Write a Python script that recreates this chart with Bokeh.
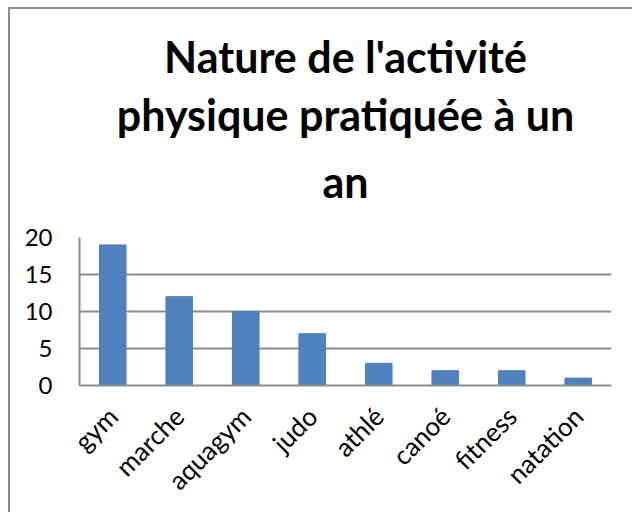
from bokeh.plotting import figure
from bokeh.models import Title, FixedTicker, Range1d
from bokeh.embed import file_html
from bokeh.resources import INLINE
import math

categories = ["gym", "marche", "aquagym", "judo", "athlé", "canoé", "fitness", "natation"]
values = [19, 12, 10, 7, 3, 2, 2, 1]
y_ticks = [0, 5, 10, 15, 20]
title_lines = ["Nature de l'activité", "physique pratiquée à un", "an"]

FONT = "Lato"
GRID = "#8c8c8c"

p = figure(x_range=categories, y_range=Range1d(0, 20), width=624, height=505,
           output_backend="svg", toolbar_location=None,
           min_border_left=69, min_border_right=23, min_border_top=228, min_border_bottom=129,
           styles={"margin-left": "8px", "margin-top": "7px",
                   "border-left": "2px solid #8c8c8c", "border-top": "2px solid #8c8c8c"})

p.vbar(x=categories, top=values, width=0.4, color="#4F81BD")

# spacer between plot frame and the title block
p.add_layout(Title(text=" ", text_font_size="1px", standoff=16), "above")

standoffs = [24, 4, 6]  # for "an", line 2, line 1
for t, s in zip(reversed(title_lines), standoffs):
    p.add_layout(Title(text=t, align="center", text_font=FONT, text_font_size="43px",
                       text_font_style="bold", text_color="black", standoff=s), "above")

p.outline_line_color = None
p.xgrid.grid_line_color = None
p.ygrid.grid_line_color = GRID
p.ygrid.grid_line_width = 2
p.yaxis.ticker = FixedTicker(ticks=y_ticks)

for ax in (p.xaxis[0], p.yaxis[0]):
    ax.axis_line_color = GRID
    ax.axis_line_width = 2
    ax.major_tick_line_color = None
    ax.minor_tick_line_color = None
    ax.major_label_text_font = FONT
    ax.major_label_text_color = "black"

p.yaxis.major_label_text_font_size = "24px"
p.xaxis.major_label_text_font_size = "26px"
p.yaxis.major_label_standoff = 21
p.xaxis.major_label_standoff = 20
p.xaxis.major_label_orientation = math.pi / 4
p.x_range.range_padding = 0

open("out.html", "w").write(file_html(p, INLINE))
